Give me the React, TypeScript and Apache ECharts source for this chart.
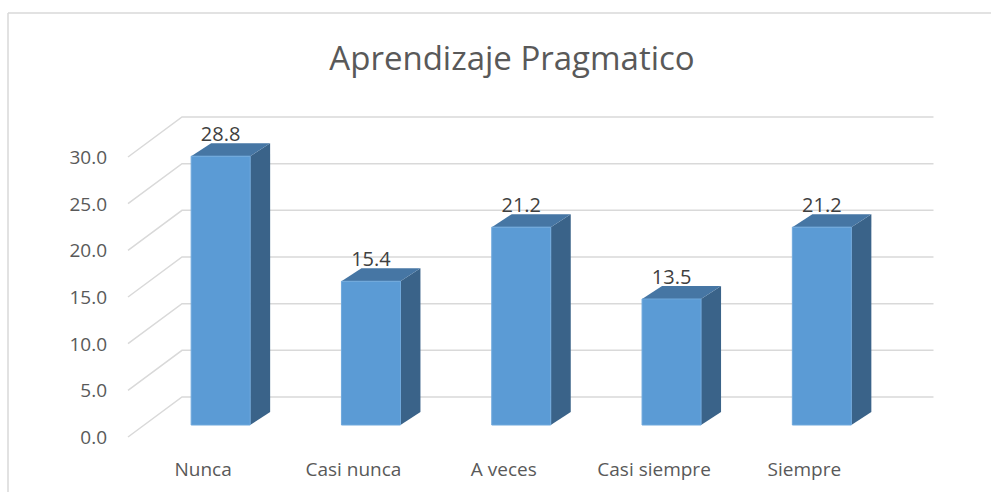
import React, { useEffect, useRef } from "react";
import * as echarts from "echarts";

const categories = ["Nunca", "Casi nunca", "A veces", "Casi siempre", "Siempre"];
const values = [28.8, 15.4, 21.2, 13.5, 21.2];
const yTicks = [0, 5, 10, 15, 20, 25, 30];
const titleText = "Aprendizaje Pragmatico";

const FONT = "'Open Sans', 'Noto Sans', sans-serif";

export default function App() {
  const ref = useRef<HTMLDivElement>(null);
  useEffect(() => {
    document.body.style.margin = "0";
    const chart = echarts.init(ref.current!, undefined, { renderer: "svg" });
    const wallDx = 54;
    const wallDy = -40;
    const option: any = {
      animation: false,
      backgroundColor: "#ffffff",
      title: {
        text: titleText,
        left: 507,
        textAlign: "center",
        top: 36,
        textStyle: { fontSize: 33, fontWeight: "normal", color: "#595959", fontFamily: FONT },
      },
      graphic: [
        { type: "line", shape: { x1: 8, y1: 13, x2: 991, y2: 13 }, style: { stroke: "#d9d9d9", lineWidth: 1.5 } },
        { type: "line", shape: { x1: 8, y1: 13, x2: 8, y2: 492 }, style: { stroke: "#d9d9d9", lineWidth: 1.5 } },
      ],
      grid: { left: 128, top: 157, width: 751.5, height: 280 },
      xAxis: {
        type: "category",
        data: categories,
        axisLine: { show: false },
        axisTick: { show: false },
        axisLabel: { margin: 22, fontSize: 19, color: "#595959", fontFamily: FONT },
      },
      yAxis: {
        type: "value",
        min: 0,
        max: 30,
        interval: 5,
        axisLine: { show: false },
        axisTick: { show: false },
        splitLine: { show: false },
        axisLabel: {
          margin: 21,
          fontSize: 19,
          color: "#595959",
          fontFamily: FONT,
          formatter: (v: number) => v.toFixed(1),
        },
      },
      series: [
        {
          type: "custom",
          z: 1,
          data: yTicks.map((t) => [0, t]),
          renderItem: (params: any, api: any) => {
            const p = api.coord([0, api.value(1)]);
            const x0 = params.coordSys.x;
            const w = params.coordSys.width;
            return {
              type: "polyline",
              shape: {
                points: [
                  [x0, p[1]],
                  [x0 + wallDx, p[1] + wallDy],
                  [x0 + w + wallDx, p[1] + wallDy],
                ],
              },
              style: { stroke: "#d9d9d9", lineWidth: 1.5, fill: "none" },
            };
          },
        },
        {
          type: "custom",
          z: 5,
          data: values.map((v, i) => [i, v]),
          renderItem: (params: any, api: any) => {
            const i = api.value(0);
            const v = api.value(1);
            const base = api.coord([i, 0]);
            const top = api.coord([i, v]);
            const cx = base[0] + 17.5;
            const by = base[1] - 12;
            const ty = top[1] - 12;
            const hw = 29.5;
            const dx = 20;
            const dy = -13;
            const xl = cx - hw;
            const xr = cx + hw;
            return {
              type: "group",
              children: [
                {
                  type: "polygon",
                  shape: { points: [[xr, ty], [xr + dx, ty + dy], [xr + dx, by + dy], [xr, by]] },
                  style: { fill: "#3a6389" },
                },
                {
                  type: "polygon",
                  shape: { points: [[xl, ty], [xl + dx, ty + dy], [xr + dx, ty + dy], [xr, ty]] },
                  style: { fill: "#4676a4" },
                },
                {
                  type: "polygon",
                  shape: { points: [[xl, ty], [xr, ty], [xr, by], [xl, by]] },
                  style: { fill: "#5b9bd5", stroke: "#6fa8dc", lineWidth: 1 },
                },
                {
                  type: "text",
                  style: {
                    x: cx,
                    y: ty + dy,
                    text: v.toFixed(1),
                    fill: "#404040",
                    fontSize: 20,
                    fontFamily: FONT,
                    align: "center",
                    verticalAlign: "bottom",
                  },
                },
              ],
            };
          },
        },
      ],
    };
    chart.setOption(option);
    return () => chart.dispose();
  }, []);
  return <div ref={ref} style={{ width: 991, height: 492 }} />;
}
